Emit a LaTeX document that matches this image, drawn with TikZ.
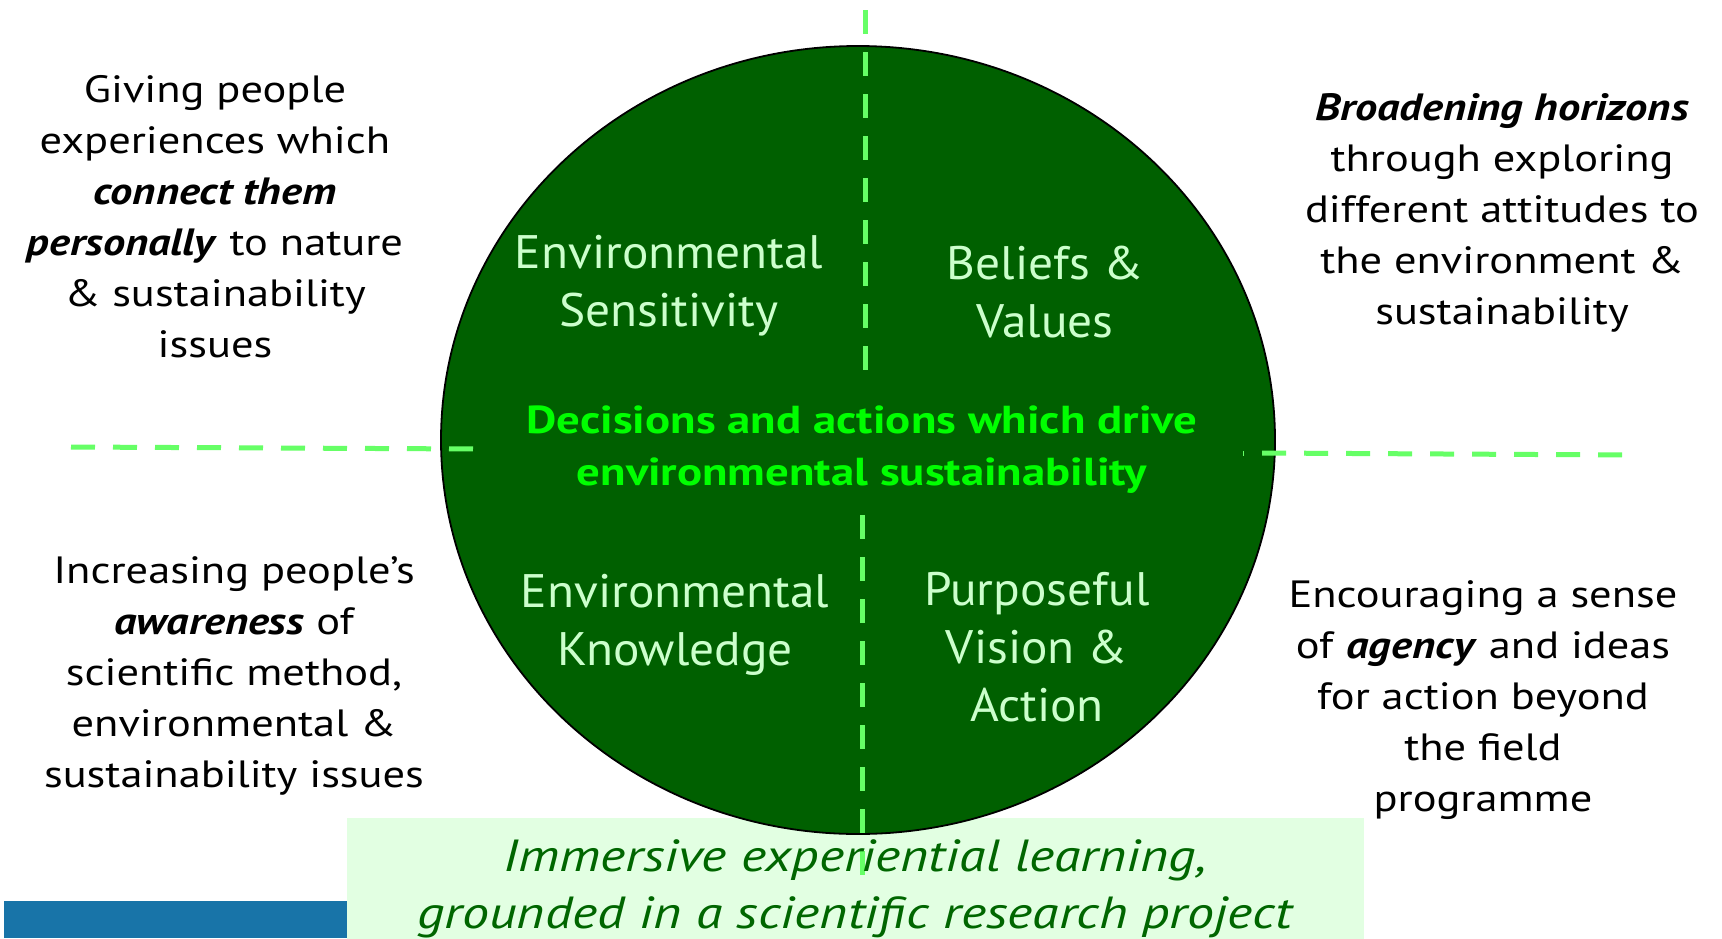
\documentclass[tikz,border=0pt]{standalone}
\usepackage{fontspec}
\setmainfont{PT Sans}
\newfontfamily\sidefont{PT Sans}[FakeStretch=1.17]
\newfontfamily\infont{PT Sans}[FakeStretch=1.05]
\newfontfamily\decfont{PT Sans}[FakeStretch=1.2]
\newfontfamily\basefont{PT Sans}[FakeStretch=1.2]
\definecolor{dkgreen}{RGB}{0,96,0}
\definecolor{dashgreen}{RGB}{102,255,102}
\definecolor{palegreen}{RGB}{204,255,204}
\definecolor{brightgreen}{RGB}{0,255,0}
\definecolor{boxgreen}{RGB}{226,255,226}
\definecolor{txtgreen}{RGB}{0,102,0}
\definecolor{barblue}{RGB}{24,116,168}
\tikzset{
  sidetext/.style={align=center, text=black, font=\sidefont\fontsize{38}{51}\selectfont, inner sep=0pt},
  intext/.style={align=center, text=palegreen, font=\infont\fontsize{47}{58}\selectfont, inner sep=0pt},
  divline/.style={draw=dashgreen, line width=5pt, dash pattern=on 24pt off 18pt},
}
\begin{document}
\begin{tikzpicture}[x=1pt,y=-1pt]
\useasboundingbox (0,0) rectangle (1722,938);
\fill[white] (0,0) rectangle (1722,938);
% bottom boxes
\node[fill=barblue, minimum width=343pt, minimum height=37pt, inner sep=0pt, anchor=north west] (bar) at (4,901) {};
\node[fill=boxgreen, minimum width=1017pt, minimum height=130pt, inner sep=0pt, anchor=north west] (base) at (347,818) {};
% central ellipse
\fill[dkgreen, draw=black, line width=1.8pt] (858,440) ellipse [x radius=417, y radius=394];
\coordinate (c) at (858,440);
% dashed dividers
\coordinate (vt1) at (865,10);
\coordinate (vt2) at (865,378);
\coordinate (vb1) at (862,515);
\coordinate (vb2) at (862,876);
\coordinate (hl1) at (71,447);
\coordinate (hl2) at (479,449);
\coordinate (tk1) at (1243,453);
\coordinate (tk2) at (1244,453);
\coordinate (hr1) at (1262,453);
\coordinate (hr2) at (1628,455);
\draw[divline] (vt1) -- (vt2);
\draw[divline] (vb1) -- (vb2);
\draw[divline] (hl1) -- (hl2);
\draw[dashgreen, line width=5pt] (tk1) -- (tk2);
\draw[divline] (hr1) -- (hr2);
% inner texts
\node[intext] (es) at (669,286) {Environmental\\Sensitivity};
\node[intext] (bv) at (1045,292) {Beliefs \&\\Values};
\node[intext] (ek) at (675,625) {Environmental\\Knowledge};
\node[intext] (pva) at (1037,647) {Purposeful\\Vision \&\\Action};
\node[align=center, text=brightgreen, font=\decfont\fontsize{39}{52}\selectfont\bfseries, inner sep=0pt] (dec) at (862,450) {Decisions and actions which drive\\environmental sustainability};
% side texts
\node[sidetext] (tl) at (215,217) {Giving people\\experiences which\\\textbf{\textit{connect them}}\\\textbf{\textit{personally}} to nature\\\& sustainability\\issues};
\node[sidetext] (tr) at (1502,213) {\textbf{\textit{Broadening horizons}}\\through exploring\\different attitudes to\\the environment \&\\sustainability};
\node[sidetext] (bl) at (234,676) {Increasing people’s\\\textbf{\textit{awareness}} of\\scientific method,\\environmental \&\\sustainability issues};
\node[sidetext] (br) at (1483,700) {Encouraging a sense\\of \textbf{\textit{agency}} and ideas\\for action beyond\\the field\\programme};
% base text
\node[align=center, text=txtgreen, font=\basefont\fontsize{45}{57}\selectfont\itshape, inner sep=0pt] (imm) at (855,889) {Immersive experiential learning,\\grounded in a scientific research project};
\end{tikzpicture}
\end{document}
